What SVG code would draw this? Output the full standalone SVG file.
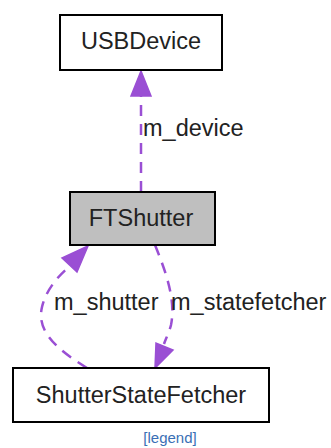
<svg xmlns="http://www.w3.org/2000/svg" width="331" height="448" viewBox="0 0 331 448">
<style>
.box{stroke:#000;stroke-width:2;}
.lbl{font-family:"Liberation Sans",Arial,sans-serif;font-size:23.5px;fill:#222;}
.edge{fill:none;stroke:#9a4fd4;stroke-width:2.5;stroke-dasharray:11,8;}
.head{fill:#9a4fd4;stroke:#9a4fd4;stroke-width:1.5;}
.elbl{font-family:"Liberation Sans",Arial,sans-serif;font-size:23.5px;fill:#222;}
</style>
<rect width="331" height="448" fill="#fff"/>
<g id="edges">
<path class="edge" d="M141,192 L141,96"/>
<polygon class="head" points="141,71 131,96 151,96"/>
<text class="elbl" x="143" y="136">m_device</text>
<path class="edge" d="M87,368 C58,350 36,332 42,307 C46,290 58,276 70,266"/>
<polygon class="head" points="88,246 62,258 77,272"/>
<path class="edge" d="M155,245 C166,272 176,300 171,325 C169,333 166,338 164,344"/>
<polygon class="head" points="155,368 156,343 173,350"/>
<text class="elbl" x="54" y="310">m_shutter</text>
<text class="elbl" x="171" y="310">m_statefetcher</text>
</g>
<g id="USBDevice">
<rect class="box" x="60" y="15" width="162" height="55" fill="#fff"/>
<text class="lbl" x="141" y="49" text-anchor="middle">USBDevice</text>
</g>
<g id="FTShutter">
<rect class="box" x="70" y="192" width="145" height="53" fill="#bfbfbf"/>
<text class="lbl" x="141" y="226" text-anchor="middle">FTShutter</text>
</g>
<g id="ShutterStateFetcher">
<rect class="box" x="13" y="368" width="256" height="54" fill="#fff"/>
<text class="lbl" x="141" y="403" text-anchor="middle">ShutterStateFetcher</text>
</g>
<g id="legend">
<text x="170" y="443" text-anchor="middle" font-family="Liberation Sans, Arial, sans-serif" font-size="15" fill="#3a6fb5">[legend]</text>
</g>
</svg>
